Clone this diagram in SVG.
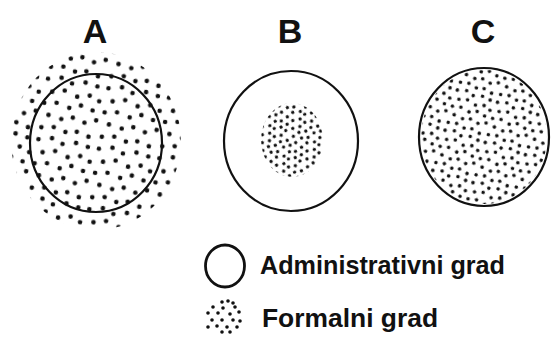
<svg xmlns="http://www.w3.org/2000/svg" width="552" height="338" viewBox="0 0 552 338">
  <style>
    .lbl { font-family: "Liberation Sans", Arial, sans-serif; font-weight: bold; fill: #111; }
    .big { font-size: 34px; text-anchor: middle; }
    .leg { font-size: 25px; }
    .ring { fill: none; stroke: #111; stroke-width: 2.2; }
    .dot { fill: #111; }
  </style>
  <defs>
    <path id="tileDots" fill="none" stroke="#111" stroke-linecap="round"
      d="M4 7h.01M17 4h.01M28 8h.01M41 5h.01M53 7h.01
         M10 19h.01M22 16h.01M35 20h.01M47 17h.01M57 21h.01
         M4 31h.01M16 29h.01M29 32h.01M40 28h.01M52 31h.01
         M10 42h.01M23 44h.01M34 41h.01M46 44h.01M57 40h.01
         M5 55h.01M17 53h.01M29 56h.01M40 54h.01M52 57h.01"/>
    <pattern id="pA" patternUnits="userSpaceOnUse" width="60" height="60" patternTransform="translate(96 141) rotate(9) scale(1.02)">
      <use href="#tileDots" stroke-width="4.5"/>
    </pattern>
    <pattern id="pB" patternUnits="userSpaceOnUse" width="60" height="60" patternTransform="translate(292 140) rotate(-25) scale(0.56)">
      <use href="#tileDots" stroke-width="6"/>
    </pattern>
    <pattern id="pC" patternUnits="userSpaceOnUse" width="60" height="60" patternTransform="translate(484 137) rotate(17) scale(0.7)">
      <use href="#tileDots" stroke-width="5.2"/>
    </pattern>
  </defs>
  <rect width="552" height="338" fill="#fff"/>

  <g id="nodeA">
    <text class="lbl big" x="95" y="43">A</text>
    <ellipse cx="96" cy="141" rx="85" ry="89" fill="url(#pA)"/>
    <ellipse class="ring" cx="96" cy="143" rx="66" ry="69"/>
  </g>

  <g id="nodeB">
    <text class="lbl big" x="290" y="43">B</text>
    <ellipse class="ring" cx="291" cy="141" rx="67" ry="70"/>
    <ellipse cx="292" cy="140" rx="31" ry="37" fill="url(#pB)"/>
  </g>

  <g id="nodeC">
    <text class="lbl big" x="483" y="43">C</text>
    <ellipse cx="484" cy="137" rx="63" ry="67" fill="url(#pC)"/>
    <ellipse class="ring" cx="484" cy="137" rx="65" ry="69"/>
  </g>

  <g id="legend">
    <ellipse cx="225" cy="266" rx="19.5" ry="21" fill="none" stroke="#111" stroke-width="2.8"/>
    <text class="lbl leg" x="260" y="274" textLength="245" lengthAdjust="spacingAndGlyphs">Administrativni grad</text>
    <g class="dot">
      <circle cx="222" cy="302" r="1.8"/><circle cx="228" cy="301" r="1.8"/><circle cx="233" cy="303" r="1.8"/>
      <circle cx="213" cy="307" r="1.8"/><circle cx="223" cy="308" r="1.8"/><circle cx="235" cy="307" r="1.8"/>
      <circle cx="208" cy="313" r="1.8"/><circle cx="218" cy="313" r="1.8"/><circle cx="230" cy="314" r="1.8"/><circle cx="239" cy="312" r="1.8"/>
      <circle cx="212" cy="320" r="1.8"/><circle cx="222" cy="320" r="1.8"/><circle cx="233" cy="320" r="1.8"/><circle cx="240" cy="321" r="1.8"/>
      <circle cx="208" cy="327" r="1.8"/><circle cx="217" cy="326" r="1.8"/><circle cx="227" cy="327" r="1.8"/><circle cx="237" cy="327" r="1.8"/>
      <circle cx="222" cy="332" r="1.8"/><circle cx="230" cy="332" r="1.8"/>
    </g>
    <text class="lbl leg" x="262" y="327" textLength="176" lengthAdjust="spacingAndGlyphs">Formalni grad</text>
  </g>
</svg>
